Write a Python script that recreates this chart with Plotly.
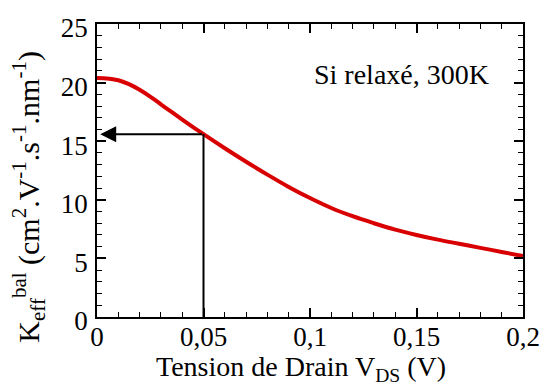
import plotly.graph_objects as go

# Data
vds = [0.0, 0.01, 0.02, 0.03, 0.04, 0.05, 0.06, 0.07, 0.08, 0.09, 0.10,
       0.11, 0.12, 0.13, 0.14, 0.15, 0.16, 0.17, 0.18, 0.19, 0.20]
keff = [20.4, 20.2, 19.4, 18.15, 16.85, 15.6, 14.4, 13.25, 12.15, 11.1, 10.15,
        9.3, 8.6, 8.0, 7.45, 7.0, 6.6, 6.25, 5.9, 5.55, 5.2]

v_mark = 0.05
k_mark = 15.6

x_tickvals = [0, 0.05, 0.1, 0.15, 0.2]
x_ticktext = ["0", "0,05", "0,1", "0,15", "0,2"]
y_tickvals = [0, 5, 10, 15, 20, 25]
y_ticktext = ["0", "5", "10", "15", "20", "25"]

x_title = "Tension de Drain V<sub>DS</sub> (V)"
y_title = "K<sub>eff</sub><sup>bal</sup> (cm<sup>2</sup>.V<sup>-1</sup>.s<sup>-1</sup>.nm<sup>-1</sup>)"
note = "Si relaxé, 300K"

FONT = "Liberation Serif, Times New Roman, serif"
TICKFONT = dict(family=FONT, size=27, color="black")

fig = go.Figure()
fig.add_trace(go.Scatter(
    x=vds, y=keff, mode="lines",
    line=dict(color="#d80000", width=4, shape="spline", smoothing=1.0),
    showlegend=False, hoverinfo="skip",
))

# vertical guide line
fig.add_shape(type="line", xref="x", yref="y",
              x0=v_mark, y0=0, x1=v_mark, y1=k_mark,
              line=dict(color="black", width=2))
# horizontal arrow to the y axis
fig.add_annotation(x=0.0015, y=k_mark, ax=v_mark, ay=k_mark,
                   xref="x", yref="y", axref="x", ayref="y",
                   text="", showarrow=True, arrowhead=2, arrowsize=1.6,
                   arrowwidth=2, arrowcolor="black", standoff=0)

fig.add_annotation(x=0.143, y=20.7, xref="x", yref="y",
                   text=note, showarrow=False,
                   font=dict(family=FONT, size=28, color="black"))

# axis titles (placed as annotations for exact position)
fig.add_annotation(x=0.479, y=-0.177, xref="paper", yref="paper",
                   xanchor="center", yanchor="middle",
                   text=x_title, showarrow=False,
                   font=dict(family=FONT, size=28, color="black"))
fig.add_annotation(x=-0.16, y=0.41, xref="paper", yref="paper",
                   xanchor="center", yanchor="middle", textangle=-90,
                   text=y_title, showarrow=False,
                   font=dict(family=FONT, size=30, color="black"))

fig.update_layout(
    xaxis=dict(
        range=[0, 0.2], tickmode="array", tickvals=x_tickvals, ticktext=x_ticktext,
        showline=True, linecolor="black", linewidth=1.5, mirror="ticks",
        ticks="inside", ticklen=9, tickwidth=1.5, tickcolor="black",
        showgrid=False, zeroline=False, automargin=False,
        ticklabeloverflow="allow", ticklabelstandoff=-5,
        tickfont=TICKFONT,
        minor=dict(dtick=0.01, ticks="inside", ticklen=5, tickwidth=1.2,
                   tickcolor="black", showgrid=False),
    ),
    yaxis=dict(
        range=[0, 25], tickmode="array", tickvals=y_tickvals, ticktext=y_ticktext,
        showline=True, linecolor="black", linewidth=1.5, mirror="ticks",
        ticks="inside", ticklen=9, tickwidth=1.5, tickcolor="black",
        showgrid=False, zeroline=False, automargin=False,
        ticklabelstandoff=2, ticklabelshift=4,
        tickfont=TICKFONT,
        minor=dict(dtick=1, ticks="inside", ticklen=5, tickwidth=1.2,
                   tickcolor="black", showgrid=False),
    ),
    width=539, height=385,
    margin=dict(l=97, r=16, t=24, b=68),
    paper_bgcolor="white", plot_bgcolor="white",
    font=dict(family=FONT, size=27, color="black"),
)

fig.write_html("out.html", config={"displayModeBar": False},
               post_script="document.body.style.margin='0';document.body.style.overflow='hidden';")
